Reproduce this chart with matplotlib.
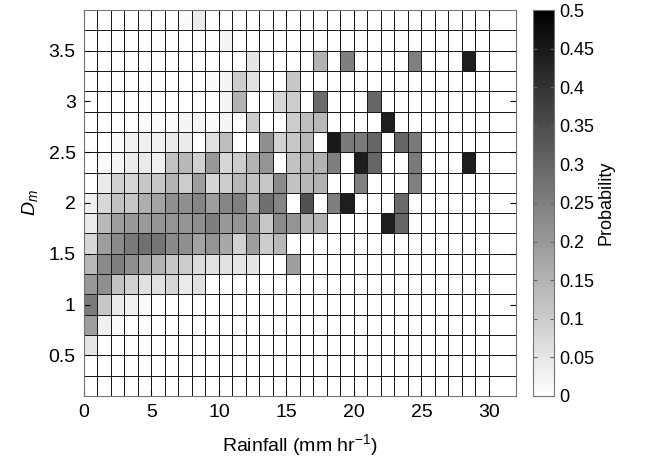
import numpy as np
import matplotlib
matplotlib.use('Agg')
import matplotlib.pyplot as plt

plt.rcParams['font.family'] = ['Liberation Sans', 'DejaVu Sans']
plt.rcParams['mathtext.fontset'] = 'custom'
plt.rcParams['mathtext.rm'] = 'Liberation Sans'
plt.rcParams['mathtext.it'] = 'Liberation Sans:italic'

# probability per bin, rows from D_m = 3.8 (top) down to 0.2, columns rain 0-1 ... 29-30 mm/hr
r38 = [0, 0, 0, 0, 0, 0, 0, .01, .04, 0, 0, 0, 0, 0, 0, 0, 0, 0, 0, 0, 0, 0, 0, 0, 0, 0, 0, 0, 0, 0]
r36 = [0, 0, 0, 0, 0, 0, 0, 0, 0, 0, .02, 0, 0, 0, 0, 0, 0, 0, 0, 0, 0, 0, 0, 0, 0, 0, 0, 0, 0, 0]
r34 = [0, 0, 0, 0, 0, 0, 0, 0, 0, 0, 0, 0, .05, 0, 0, 0, 0, .15, 0, .25, 0, 0, 0, 0, .25, 0, 0, 0, .44, 0]
r32 = [0, 0, 0, 0, 0, 0, 0, 0, 0, .01, .02, .10, .06, 0, 0, .11, 0, 0, 0, 0, 0, 0, 0, 0, 0, 0, 0, 0, 0, 0]
r30 = [0, 0, 0, 0, 0, 0, 0, 0, 0, 0, .02, .15, 0, 0, .08, .10, 0, .29, 0, 0, 0, .30, 0, 0, 0, 0, 0, 0, 0, 0]
r28 = [0, 0, 0, 0, .01, .01, .01, .02, .02, .01, .02, 0, .10, 0, 0, .10, .13, .14, 0, 0, 0, 0, .44, 0, 0, 0, 0, 0, 0, 0]
r26 = [0, 0, .01, .03, .03, .03, .04, .04, 0, .06, .13, 0, 0, .22, .09, .11, .14, 0, .45, .26, .26, .30, 0, .30, .26, 0, 0, 0, 0, 0]
r24 = [0, .01, .02, .04, .04, .03, .12, .14, .09, .20, .08, .10, .15, .21, 0, .12, .14, .15, .25, 0, .44, .30, 0, 0, .26, 0, 0, 0, .44, 0]
r22 = [0, .04, .09, .08, .11, .11, .15, .10, .19, .08, .10, .14, .12, .11, .23, .12, .14, .15, 0, 0, .25, 0, 0, 0, .25, 0, 0, 0, 0, 0]
r20 = [.03, .08, .12, .11, .16, .18, .22, .22, .24, .19, .24, .25, .15, .28, .24, 0, .34, 0, .25, .44, 0, 0, 0, .29, 0, 0, 0, 0, 0, 0]
r18 = [.04, .14, .19, .20, .20, .21, .21, .21, .22, .25, .20, .21, .20, .11, .23, .21, .14, .15, 0, 0, 0, 0, .44, .30, 0, 0, 0, 0, 0, 0]
r16 = [.08, .19, .23, .26, .28, .27, .23, .22, .18, .21, .17, .09, .19, .10, .14, 0, 0, 0, 0, 0, 0, 0, 0, 0, 0, 0, 0, 0, 0, 0]
r14 = [.14, .23, .25, .22, .18, .15, .11, .10, .07, .06, .06, .05, .05, 0, 0, .19, 0, 0, 0, 0, 0, 0, 0, 0, 0, 0, 0, 0, 0, 0]
r12 = [.20, .22, .12, .09, .06, .06, .08, .04, .06, 0, 0, 0, 0, 0, 0, 0, 0, 0, 0, 0, 0, 0, 0, 0, 0, 0, 0, 0, 0, 0]
r10 = [.26, .11, .04, .03, .01, 0, 0, 0, 0, 0, 0, 0, 0, 0, 0, 0, 0, 0, 0, 0, 0, 0, 0, 0, 0, 0, 0, 0, 0, 0]
r08 = [.19, .03, .01, 0, 0, 0, 0, 0, 0, 0, 0, 0, 0, 0, 0, 0, 0, 0, 0, 0, 0, 0, 0, 0, 0, 0, 0, 0, 0, 0]
r06 = [.05, 0, 0, 0, 0, 0, 0, 0, 0, 0, 0, 0, 0, 0, 0, 0, 0, 0, 0, 0, 0, 0, 0, 0, 0, 0, 0, 0, 0, 0]
r04 = [0] * 30
r02 = [0] * 30

prob = np.array([r38, r36, r34, r32, r30, r28, r26, r24, r22, r20,
                 r18, r16, r14, r12, r10, r08, r06, r04, r02])[::-1]

# bin edges: 1 mm/hr rain bins (last blank bin 30-32), 0.2 D_m bins
rain_edges = np.append(np.arange(0, 31), 32)
dm_edges = np.arange(0.1, 3.91, 0.2)

data = np.hstack([prob, np.zeros((prob.shape[0], 1))])

fig = plt.figure(figsize=(6.49, 4.57), dpi=100)
ax = fig.add_axes([0.1294, 0.1335, 0.6656, 0.8446])
mesh = ax.pcolormesh(rain_edges, dm_edges, data, cmap='gray_r', vmin=0, vmax=0.5,
                     edgecolors='0.1', linewidth=0.6)

ax.set_xlim(0, 32)
ax.set_ylim(0.1, 3.9)
ax.set_xticks([0, 5, 10, 15, 20, 25, 30])
ax.set_yticks([0.5, 1, 1.5, 2, 2.5, 3, 3.5])
ax.set_yticklabels(['0.5', '1', '1.5', '2', '2.5', '3', '3.5'])
ax.tick_params(direction='in', top=True, right=True, length=4, labelsize=14, pad=6)
for s in ax.spines.values():
    s.set_color('0.45')
    s.set_linewidth(0.8)

ax.set_xlabel('Rainfall (mm hr$^{-1}$)', fontsize=14, labelpad=8)
ax.set_ylabel('$D_m$', fontsize=14, labelpad=6)

cax = fig.add_axes([0.8213, 0.1335, 0.0324, 0.8446])
cb = fig.colorbar(mesh, cax=cax)
cb_ticks = [0, 0.05, 0.1, 0.15, 0.2, 0.25, 0.3, 0.35, 0.4, 0.45, 0.5]
cb.set_ticks(cb_ticks)
cb.set_ticklabels(['0', '0.05', '0.1', '0.15', '0.2', '0.25', '0.3', '0.35', '0.4', '0.45', '0.5'])
cax.tick_params(direction='in', left=True, right=True, length=3, labelsize=13, pad=4, color='0.4')
cb.outline.set_edgecolor('0.45')
cb.outline.set_linewidth(0.8)
cb.set_label('Probability', fontsize=13, labelpad=2)

fig.savefig('out.png', dpi=100)
